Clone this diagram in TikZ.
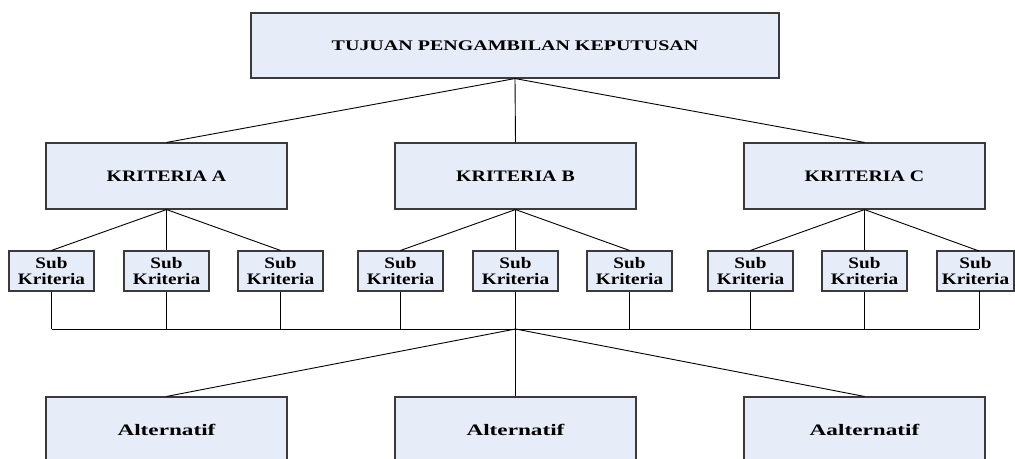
\documentclass[tikz,border=0pt]{standalone}
\usepackage{fontspec}
\setmainfont{Liberation Serif}
\definecolor{boxfill}{HTML}{E7EDF8}
\definecolor{boxdraw}{HTML}{3A3A3A}
\tikzset{
  boxnode/.style={draw=boxdraw, fill=boxfill, line width=1.1pt, inner sep=0pt, font=\bfseries},
  topbox/.style={boxnode, minimum width=528pt, minimum height=65pt, font=\bfseries\fontsize{14.7}{17}\selectfont},
  kritbox/.style={boxnode, minimum width=241pt, minimum height=66pt, font=\bfseries\fontsize{16}{18}\selectfont},
  subbox/.style={boxnode, minimum width=85pt, minimum height=40pt, font=\bfseries\fontsize{16}{16}\selectfont},
  altbox/.style={boxnode, minimum width=241pt, minimum height=66pt, font=\bfseries\fontsize{16}{18}\selectfont},
  link/.style={draw=black, line width=0.9pt}
}
\newcommand{\sxt}[2]{\scalebox{#1}[1]{#2}}
\newcommand{\subtxt}{\sxt{1.2}{\begin{tabular}{@{}c@{}}\rule{0pt}{15.2pt}Sub\\Kriteria\end{tabular}}}
\begin{document}
\begin{tikzpicture}[x=1pt,y=-1pt]
\useasboundingbox (0,0) rectangle (1015,458);

\node[topbox] (top) at (515,45.5) {\sxt{1.36}{TUJUAN PENGAMBILAN KEPUTUSAN}};

\node[kritbox] (ka) at (166.5,176) {\sxt{1.24}{KRITERIA A}};
\node[kritbox] (kb) at (515.5,176) {\sxt{1.24}{KRITERIA B}};
\node[kritbox] (kc) at (864.5,176) {\sxt{1.24}{KRITERIA C}};

\node[subbox] (s1) at (51.5,271) {\subtxt};
\node[subbox] (s2) at (166.5,271) {\subtxt};
\node[subbox] (s3) at (280.5,271) {\subtxt};
\node[subbox] (s4) at (400.5,271) {\subtxt};
\node[subbox] (s5) at (515.5,271) {\subtxt};
\node[subbox] (s6) at (629.5,271) {\subtxt};
\node[subbox] (s7) at (750.5,271) {\subtxt};
\node[subbox] (s8) at (864.5,271) {\subtxt};
\node[subbox, minimum width=77pt] (s9) at (975.5,271) {\subtxt};
\coordinate (s9n) at (979,251);
\coordinate (s9s) at (979,291);

\coordinate (bus) at (515.5,329);

\node[altbox] (a1) at (166.5,430) {\sxt{1.45}{Alternatif}};
\node[altbox] (a2) at (515.5,430) {\sxt{1.45}{Alternatif}};
\node[altbox] (a3) at (864.5,430) {\sxt{1.45}{Aalternatif}};

% top to criteria
\draw[link] (top.south) -- (ka.north);
\draw[link] (top.south) -- (kb.north);
\draw[link] (top.south) -- (kc.north);

% criteria to subcriteria
\draw[link] (ka.south) -- (s1.north);
\draw[link] (ka.south) -- (s2.north);
\draw[link] (ka.south) -- (s3.north);
\draw[link] (kb.south) -- (s4.north);
\draw[link] (kb.south) -- (s5.north);
\draw[link] (kb.south) -- (s6.north);
\draw[link] (kc.south) -- (s7.north);
\draw[link] (kc.south) -- (s8.north);
\draw[link] (kc.south) -- (s9n);

% subcriteria to bus
\foreach \s in {s1,s2,s3,s4,s5,s6,s7,s8}{
  \draw[link] (\s.south) -- (\s.south |- bus);
}
\draw[link] (s9s) -- (s9s |- bus);
\draw[link] (s1.south |- bus) -- (s9s |- bus);

% bus to alternatives
\draw[link] (bus) -- (a1.north);
\draw[link] (bus) -- (a2.north);
\draw[link] (bus) -- (a3.north);
\end{tikzpicture}
\end{document}
